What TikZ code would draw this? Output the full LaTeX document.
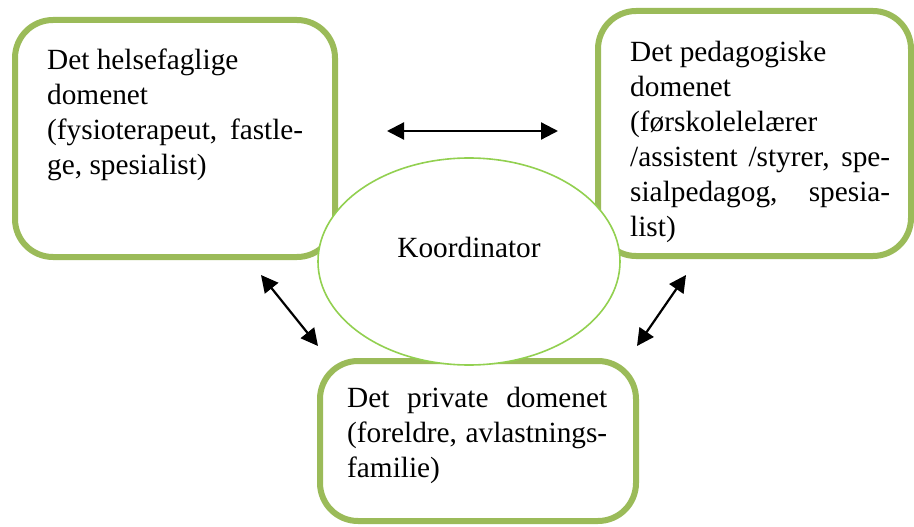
\documentclass[tikz,border=0pt]{standalone}
\usepackage{fontspec}
\setmainfont{Liberation Serif}
\usetikzlibrary{shapes.geometric,arrows.meta}
\definecolor{boxgreen}{HTML}{9BBB59}
\definecolor{ellgreen}{HTML}{92D050}
\newcommand\jline[2]{\makebox[#1][s]{#2}}
\newcommand\boxtext[2]{\parbox[t]{#1}{\fontsize{29.3}{35}\selectfont #2}}
\begin{document}
\begin{tikzpicture}[x=1pt,y=-1pt,
  domainbox/.style={draw=boxgreen,line width=6pt,rounded corners=38pt,fill=white,inner sep=0pt},
  koordell/.style={ellipse,draw=ellgreen,line width=1.6pt,fill=white,inner sep=0pt},
  txt/.style={anchor=base west,inner sep=0pt,align=left},
  dblarrow/.style={{Triangle[length=17pt,width=17pt]}-{Triangle[length=17pt,width=17pt]},line width=2.2pt,black}
]
\useasboundingbox (0,0) rectangle (914,527);
% boxes
\node[domainbox,minimum width=320pt,minimum height=237pt] (hel) at (175,138.5) {};
\node[domainbox,minimum width=313pt,minimum height=245pt] (ped) at (754.5,133.5) {};
\node[domainbox,minimum width=316pt,minimum height=160pt] (pri) at (478,441) {};
% coordinator ellipse
\node[koordell,minimum width=302pt,minimum height=207pt] (koord) at (469,261.5) {};
\node[anchor=base,inner sep=0pt,font=\fontsize{29.3}{35}\selectfont] (koordtxt) at (469,257) {Koordinator};
% texts
\node[txt] (heltxt) at (47,70) {\boxtext{256pt}{Det helsefaglige\\
domenet\\
\jline{256pt}{(fysioterapeut, fastle-}\\
ge, spesialist)}};
\node[txt] (pedtxt) at (630,62) {\boxtext{260pt}{Det pedagogiske\\
domenet\\
(førskolelelærer\\
\jline{260pt}{/assistent /styrer, spe-}\\
\jline{260pt}{sialpedagog, spesia-}\\
list)}};
\node[txt] (pritxt) at (347,407) {\boxtext{260pt}{\jline{260pt}{Det private domenet}\\
\jline{260pt}{(foreldre, avlastnings-}\\
familie)}};
% arrow end points
\coordinate (a1) at (387,131);
\coordinate (a2) at (558,131);
\coordinate (b1) at (261,275);
\coordinate (b2) at (318,346);
\coordinate (c1) at (686,275);
\coordinate (c2) at (637,346);
\draw[dblarrow] (a1) -- (a2);
\draw[dblarrow] (b1) -- (b2);
\draw[dblarrow] (c1) -- (c2);
\end{tikzpicture}
\end{document}
